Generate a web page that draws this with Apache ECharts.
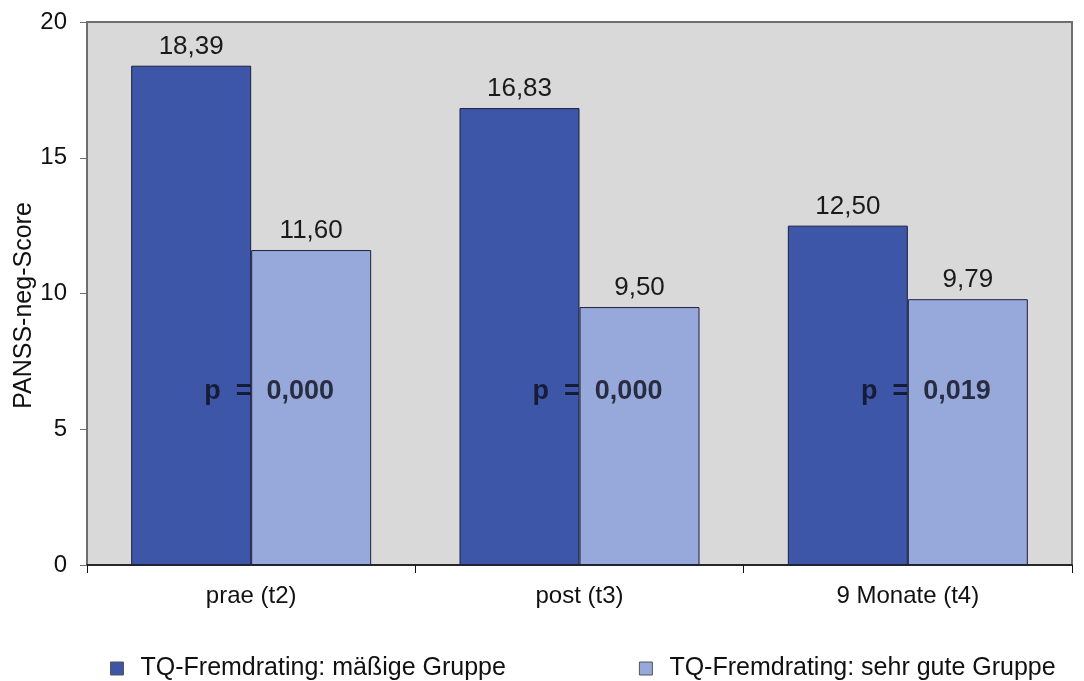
<!DOCTYPE html>
<html>
<head>
<meta charset="utf-8">
<script src="https://cdn.jsdelivr.net/npm/echarts@6/dist/echarts.min.js"></script>
<style>
  html, body { margin: 0; padding: 0; background: #ffffff; }
  #chart { width: 1084px; height: 681px; }
</style>
</head>
<body>
<div id="chart"></div>
<script>
// Zeitpunkte der Messung
const categories = ['prae (t2)', 'post (t3)', '9 Monate (t4)'];
// PANSS-neg-Mittelwerte je Gruppe
const moderateGroup = [18.39, 16.83, 12.50];
const veryGoodGroup = [11.60, 9.50, 9.79];
// Signifikanzangaben je Zeitpunkt
const pValues = ['0,000', '0,000', '0,019'];
const pLabelLevel = 6.4;
const yTicks = [0, 5, 10, 15, 20];

const seriesNames = ['TQ-Fremdrating: mäßige Gruppe', 'TQ-Fremdrating: sehr gute Gruppe'];
const fontFamily = 'Liberation Sans, Arial, sans-serif';
const fmt = v => v.toFixed(2).replace('.', ',');

const chart = echarts.init(document.getElementById('chart'));
chart.setOption({
  animation: false,
  textStyle: { fontFamily: fontFamily },
  grid: {
    left: 87, right: 12, top: 22, bottom: 116,
    outerBoundsMode: 'none',
    containLabel: false,
    show: true, backgroundColor: '#d9d9d9', borderColor: '#6e6e6e', borderWidth: 2
  },
  legend: {
    left: 105, top: 651,
    itemWidth: 13, itemHeight: 13, itemGap: 133,
    icon: 'rect',
    textStyle: { fontSize: 25, color: '#111', padding: [0, 0, 0, 12] },
    data: seriesNames.map(n => ({ name: n, itemStyle: { borderColor: '#555', borderWidth: 1 } }))
  },
  xAxis: {
    type: 'category',
    data: categories,
    axisLine: { lineStyle: { color: '#111', width: 1.5 } },
    axisTick: { show: true, length: 8, lineStyle: { color: '#111' } },
    axisLabel: { fontSize: 24, color: '#111', margin: 19 }
  },
  yAxis: {
    type: 'value',
    min: 0, max: 20, interval: 5,
    name: 'PANSS-neg-Score',
    nameLocation: 'middle',
    nameGap: 50,
    nameMoveOverlap: false,
    nameTextStyle: { fontSize: 25, color: '#111', padding: [0, 24, 0, 0] },
    axisLine: { show: true, lineStyle: { color: '#6e6e6e', width: 2 } },
    axisTick: { show: true, length: 7, lineStyle: { color: '#6e6e6e' } },
    axisLabel: {
      fontSize: 24, color: '#111', margin: 20,
      formatter: v => yTicks.includes(v) ? String(v) : ''
    },
    splitLine: { show: false }
  },
  series: [
    {
      name: seriesNames[0],
      type: 'bar',
      data: moderateGroup,
      barWidth: 120,
      barGap: '0%',
      itemStyle: { color: '#3e56a8', borderColor: '#1c2040', borderWidth: 1 },
      label: {
        show: true, position: 'top', distance: 6,
        fontSize: 26, color: '#1a1a1a',
        formatter: p => fmt(p.value)
      },
      z: 2
    },
    {
      name: seriesNames[1],
      type: 'bar',
      data: veryGoodGroup,
      barWidth: 120,
      barGap: '0%',
      itemStyle: { color: '#97a8da', borderColor: '#1c2040', borderWidth: 1 },
      label: {
        show: true, position: 'top', distance: 6,
        fontSize: 26, color: '#1a1a1a',
        formatter: p => fmt(p.value)
      },
      z: 2
    },
    {
      // Signifikanzbeschriftung mittig über den Balkenpaaren
      name: 'p',
      type: 'scatter',
      data: pValues.map((p, i) => [i, pLabelLevel]),
      symbolSize: 0,
      silent: true,
      legendHoverLink: false,
      label: {
        show: true,
        position: 'inside',
        offset: [18, 0],
        fontSize: 27,
        fontWeight: 'bold',
        color: '#0d0d1a',
        formatter: p => 'p  =  ' + pValues[p.dataIndex]
      },
      z: 5
    }
  ]
});
</script>
</body>
</html>
